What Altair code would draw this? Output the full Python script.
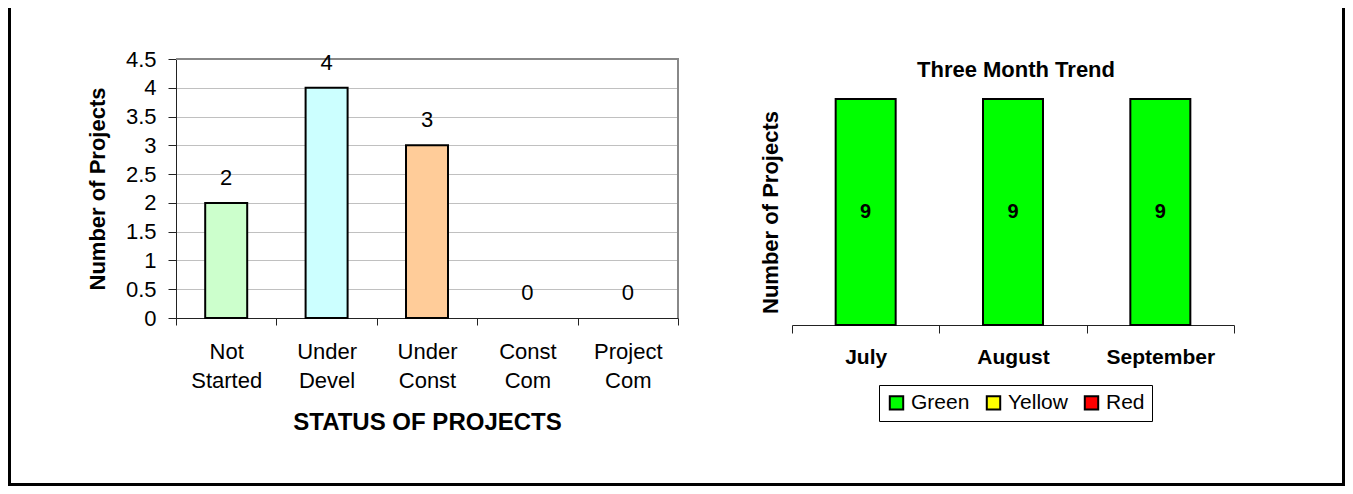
import altair as alt
import pandas as pd

# ---------------- data ----------------
status_categories = ["Not Started", "Under Devel", "Under Const", "Const Com", "Project Com"]
status_counts = [2, 4, 3, 0, 0]
status_colors = ["#CCFFCC", "#CCFFFF", "#FFCC99", "#FFFFFF", "#FFFFFF"]

months = ["July", "August", "September"]
series_names = ["Green", "Yellow", "Red"]
green_counts = [9, 9, 9]
yellow_counts = [0, 0, 0]
red_counts = [0, 0, 0]
series_colors = ["#00FF00", "#FFFF00", "#FF0000"]

y_ticks_left = [0, 0.5, 1, 1.5, 2, 2.5, 3, 3.5, 4, 4.5]

FONT = "Liberation Sans"
W, H = 1337, 478

left_df = pd.DataFrame({"status": status_categories, "count": status_counts})
rows = []
for name, vals in zip(series_names, [green_counts, yellow_counts, red_counts]):
    for m, v in zip(months, vals):
        rows.append({"month": m, "series": name, "value": v})
right_df = pd.DataFrame(rows)

# ---------------- left chart ----------------
xl = alt.X(
    "status:N", sort=status_categories,
    scale=alt.Scale(range=[168, 670], paddingInner=0, paddingOuter=0),
    axis=alt.Axis(
        orient="bottom", offset=310 - H, title="STATUS OF PROJECTS",
        labelExpr="split(datum.label, ' ')", labelAngle=0,
        labelFont=FONT, labelFontSize=22, labelColor="black", labelLineHeight=29,
        labelPadding=16, labelBaseline="top",
        tickBand="extent", tickSize=7, tickColor="#222", domainColor="#222",
        titleFont=FONT, titleFontSize=24, titleFontWeight="bold", titleColor="black",
        titleY=104, titleBaseline="middle", grid=False,
    ),
)
yl = alt.Y(
    "count:Q",
    scale=alt.Scale(domain=[0, 4.5], range=[310, 51], nice=False, zero=True),
    axis=alt.Axis(
        orient="left", offset=-168, title="Number of Projects", values=y_ticks_left,
        format="~g", labelFont=FONT, labelFontSize=22, labelColor="black", labelPadding=12,
        tickSize=8, tickColor="#222", domainColor="#222",
        grid=True, gridColor="#c0c0c0", gridWidth=1,
        titleFont=FONT, titleFontSize=22, titleFontWeight="bold", titleColor="black",
        titleX=-79, titleBaseline="middle",
    ),
)

left_bars = alt.Chart(left_df).transform_filter("datum.count > 0").mark_bar(
    width=42, stroke="black", strokeWidth=2
).encode(
    x=xl, y=yl,
    color=alt.Color("status:N", sort=status_categories,
                    scale=alt.Scale(domain=status_categories, range=status_colors), legend=None),
)
left_text = alt.Chart(left_df).mark_text(
    font=FONT, fontSize=22, color="black", baseline="alphabetic", dy=-18
).encode(x=alt.X("status:N", sort=status_categories), y="count:Q", text="count:Q")

left_top = alt.Chart(alt.Data(values=[{}])).mark_rule(color="#888888", strokeWidth=2).encode(
    y=alt.datum(4.5), x=alt.value(168), x2=alt.value(671)
)
left_right = alt.Chart(alt.Data(values=[{}])).mark_rule(color="#888888", strokeWidth=2).encode(
    x=alt.value(670), y=alt.datum(0), y2=alt.datum(4.5)
)

left = alt.layer(left_bars, left_top, left_right, left_text)

# ---------------- right chart ----------------
xr = alt.X(
    "month:N", sort=months,
    scale=alt.Scale(range=[784, 1226], paddingInner=0, paddingOuter=0),
    axis=alt.Axis(
        orient="bottom", offset=317 - H, title=None, labelAngle=0,
        labelFont=FONT, labelFontSize=21, labelFontWeight="bold", labelColor="black",
        labelPadding=13, labelBaseline="top",
        tickBand="extent", tickSize=8, tickColor="#222", domainColor="#222",
        grid=False,
    ),
)
yr = alt.Y(
    "value:Q", stack="zero",
    scale=alt.Scale(domain=[0, 9], range=[317, 91], nice=False),
    axis=alt.Axis(
        orient="left", offset=-784, title="Number of Projects", domain=False, ticks=False,
        labels=False, grid=False,
        titleFont=FONT, titleFontSize=22, titleFontWeight="bold", titleColor="black",
        titleX=-22, titleBaseline="middle",
    ),
)
right_bars = alt.Chart(right_df).transform_filter("datum.value > 0").mark_bar(
    width=60, stroke="black", strokeWidth=2
).encode(
    x=xr, y=yr,
    color=alt.Color(
        "series:N",
        scale=alt.Scale(domain=series_names, range=series_colors),
        legend=alt.Legend(
            orient="none", legendX=871, legendY=377, direction="horizontal", title=None,
            symbolType="square", symbolSize=180, symbolStrokeColor="black",
            symbolStrokeWidth=2, symbolOpacity=1,
            labelFont=FONT, labelFontSize=21, labelColor="black", labelOffset=4,
            columnPadding=12, strokeColor="black", fillColor="white", padding=7,
        ),
    ),
)
right_text = alt.Chart(right_df).transform_filter("datum.value > 0").transform_calculate(
    mid="datum.value / 2"
).mark_text(font=FONT, fontSize=20, fontWeight="bold", color="black", baseline="middle").encode(
    x=alt.X("month:N", sort=months), y=alt.Y("mid:Q"), text="value:Q"
)
right_title = alt.Chart(alt.Data(values=[{}])).mark_text(
    font=FONT, fontSize=22, fontWeight="bold", color="black", baseline="middle"
).encode(x=alt.value(1008), y=alt.value(62), text=alt.value("Three Month Trend"))

right = alt.layer(right_bars, right_text, right_title)

# ---------------- outer frame ----------------
def rule(color="black", width=3, **enc):
    return alt.Chart(alt.Data(values=[{}])).mark_rule(color=color, strokeWidth=width).encode(**enc)

frame = alt.layer(
    rule(color="white", width=3, x=alt.value(3), x2=alt.value(W - 3), y=alt.value(1)),
    rule(x=alt.value(1.5), y=alt.value(0), y2=alt.value(H - 1.5)),
    rule(x=alt.value(W - 1.5), y=alt.value(0), y2=alt.value(H - 1.5)),
    rule(x=alt.value(0), x2=alt.value(W), y=alt.value(H - 1.5)),
)

chart = alt.layer(left, right, frame).resolve_scale(
    x="independent", y="independent", color="independent"
).resolve_axis(x="independent", y="independent").properties(
    width=W, height=H, autosize=alt.AutoSizeParams(type="none"), padding=0
).configure_view(strokeWidth=0, stroke="transparent").configure(background="white")

chart.save("out.html", embed_options={"renderer": "svg", "actions": False})
